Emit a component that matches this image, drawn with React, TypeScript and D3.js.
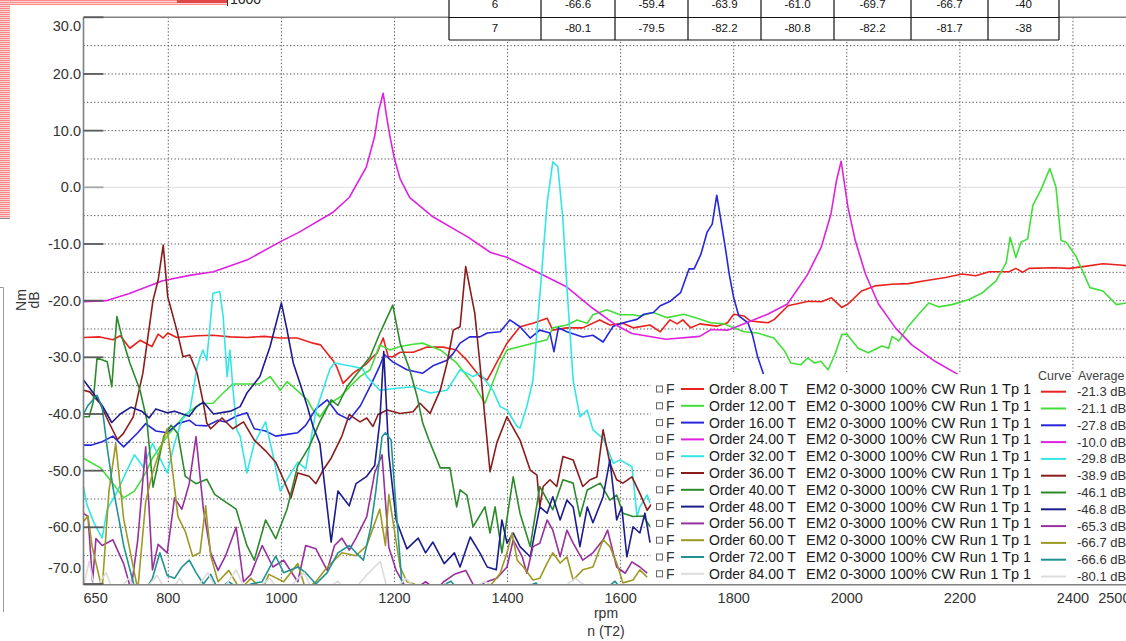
import React from 'react';
import * as d3 from 'd3';

type P = [number, number];

const orders = ['8.00', '12.00', '16.00', '24.00', '32.00', '36.00', '40.00', '48.00', '56.00', '60.00', '72.00', '84.00'];
const colors = ['#e8231e', '#42de3a', '#2626dc', '#df22df', '#33e6e6', '#8a1c1c', '#2b8a2b', '#1c1c8e', '#98309e', '#9c9a22', '#1f9393', '#dcdcdc'];
const averages = ['-21.3', '-21.1', '-27.8', '-10.0', '-29.8', '-38.9', '-46.1', '-46.8', '-65.3', '-66.7', '-66.6', '-80.1'];

const order8: P[] = [[650,-26.5],[679,-26.4],[702,-26.9],[715,-26.2],[732,-28.4],[750,-27.0],[771,-28.1],[782,-25.9],[791,-26.6],[799,-25.7],[815,-26.5],[851,-26.2],[879,-26.1],[910,-26.4],[939,-26.5],[970,-26.3],[998,-26.6],[1028,-26.6],[1056,-27.5],[1069,-27.8],[1081,-29.3],[1091,-30.5],[1098,-31.7],[1109,-34.6],[1127,-32.8],[1151,-31.1],[1162,-29.9],[1169,-29.3],[1180,-26.6],[1189,-29.9],[1197,-29.9],[1210,-29.1],[1233,-29.1],[1258,-28.2],[1286,-28.2],[1310,-28.7],[1328,-30.5],[1351,-33.4],[1364,-34.0],[1374,-32.2],[1399,-27.5],[1422,-24.6],[1445,-24.0],[1470,-23.1],[1480,-25.2],[1505,-24.8],[1533,-24.8],[1563,-23.4],[1581,-24.3],[1604,-24.0],[1622,-24.8],[1652,-24.3],[1670,-25.5],[1687,-23.4],[1700,-24.1],[1710,-23.4],[1724,-24.8],[1740,-24.1],[1770,-24.5],[1789,-23.9],[1800,-22.4],[1818,-22.7],[1830,-23.6],[1861,-23.9],[1872,-23.3],[1896,-20.9],[1932,-20.1],[1955,-20.2],[1973,-19.5],[1991,-21.2],[2002,-20.6],[2026,-18.3],[2050,-17.4],[2080,-17.1],[2109,-17.0],[2138,-16.5],[2175,-15.9],[2204,-15.3],[2228,-15.6],[2252,-14.9],[2287,-14.9],[2299,-14.3],[2311,-15.0],[2322,-14.3],[2365,-14.2],[2394,-14.3],[2418,-14.0],[2453,-13.5],[2483,-13.7],[2500,-13.9]];

const order12: P[] = [[650,-47.8],[680,-49.5],[700,-52],[721,-54.8],[740,-53.6],[760,-50.4],[772,-47.8],[798,-43.9],[830,-40.1],[856,-38.2],[879,-38.1],[897,-36.3],[914,-34.7],[939,-34.7],[962,-34.7],[980,-33.4],[998,-35.8],[1010,-34.3],[1021,-35.2],[1046,-37.5],[1056,-39.3],[1068,-40.5],[1086,-38.1],[1104,-37.0],[1121,-35.2],[1139,-33.4],[1157,-32.2],[1174,-27.8],[1192,-28.7],[1210,-28.1],[1233,-27.7],[1250,-27.5],[1281,-28.7],[1310,-31.0],[1339,-34.6],[1360,-38.1],[1387,-31.0],[1399,-28.7],[1445,-27.5],[1470,-26.9],[1480,-24.8],[1505,-24.3],[1523,-23.4],[1541,-24.0],[1551,-22.5],[1576,-21.6],[1599,-22.5],[1622,-22.5],[1634,-22.7],[1658,-22.1],[1682,-23.0],[1712,-22.4],[1741,-23.3],[1759,-23.9],[1783,-24.1],[1800,-24.8],[1818,-25.5],[1842,-25.7],[1871,-26.6],[1890,-28.9],[1901,-31.0],[1919,-31.3],[1931,-30.1],[1943,-31.0],[1954,-30.7],[1967,-32.2],[1979,-29.5],[1991,-26.0],[2000,-25.9],[2020,-28.4],[2038,-29.2],[2062,-28.0],[2074,-28.4],[2080,-26.3],[2092,-27.1],[2109,-24.5],[2127,-22.4],[2145,-20.4],[2163,-21.1],[2186,-20.7],[2216,-19.8],[2240,-18.6],[2264,-16.5],[2282,-13.3],[2289,-8.8],[2299,-12.4],[2308,-9.7],[2320,-9.1],[2329,-3.2],[2343,-0.5],[2359,3.3],[2370,0.0],[2379,-9.4],[2388,-9.7],[2405,-12.1],[2430,-17.7],[2453,-18.3],[2477,-20.7],[2494,-20.4],[2500,-20.5]];

const order16: P[] = [[650,-45.5],[663,-45.5],[683,-44.9],[702,-43.9],[721,-45.8],[746,-43.3],[760,-41.7],[778,-43.0],[798,-43.3],[817,-41.7],[837,-41.1],[849,-42.0],[868,-42.1],[888,-41.1],[901,-41.4],[920,-40.4],[939,-39.8],[952,-42.6],[972,-43.0],[990,-43.9],[1010,-43.6],[1029,-43.3],[1043,-42.0],[1061,-39.1],[1081,-37.5],[1100,-40.0],[1120,-41.0],[1140,-38.5],[1160,-34.5],[1174,-31.5],[1182,-29.5],[1197,-30.8],[1222,-32.2],[1250,-32.8],[1268,-31.5],[1293,-30.5],[1304,-29.3],[1316,-27.5],[1333,-26.4],[1351,-26.4],[1364,-25.7],[1387,-25.5],[1404,-23.4],[1422,-24.6],[1440,-26.6],[1457,-25.2],[1475,-25.7],[1482,-29.0],[1490,-24.8],[1505,-25.5],[1533,-26.4],[1551,-26.1],[1569,-27.3],[1587,-24.5],[1605,-23.9],[1617,-23.6],[1629,-23.3],[1641,-22.4],[1658,-22.1],[1670,-20.9],[1688,-20.1],[1706,-18.6],[1721,-14.4],[1730,-14.4],[1742,-11.8],[1753,-7.9],[1762,-6.5],[1770,-1.4],[1777,-5.6],[1786,-11.2],[1792,-15.3],[1800,-19.5],[1809,-22.7],[1825,-23.9],[1833,-26.0],[1842,-29.8],[1854,-33.4],[1862,-36]];

const order24: P[] = [[650,-20.2],[690,-20.0],[730,-18.8],[790,-16.5],[840,-15.5],[880,-14.9],[940,-12.8],[1000,-9.5],[1030,-8],[1090,-4.5],[1120,-1.8],[1150,3.5],[1165,9],[1172,13.5],[1180,16.6],[1186,12.5],[1192,9],[1200,5],[1210,1.5],[1227,-1.8],[1268,-5.2],[1330,-8.8],[1370,-11.5],[1400,-12.4],[1445,-14.6],[1505,-17.6],[1550,-21.3],[1590,-24.2],[1620,-25.8],[1680,-26.8],[1740,-26.3],[1760,-25.1],[1790,-25.2],[1815,-24.2],[1860,-22.4],[1895,-20.6],[1930,-15.5],[1955,-10.5],[1972,-4.7],[1982,1.3],[1990,4.6],[2002,-3.5],[2015,-9.4],[2033,-15.3],[2056,-20.6],[2086,-24.8],[2115,-27.8],[2156,-30.7],[2198,-33.1]];

const order32: P[] = [[650,-52.9],[656,-56],[669,-59.3],[683,-61.9],[692,-56.8],[707,-54.2],[740,-47.2],[756,-49.4],[772,-45.2],[785,-47.8],[798,-50.4],[811,-45.2],[824,-41.0],[838,-39.5],[851,-31.7],[861,-28.7],[868,-30.5],[879,-18.7],[891,-18.4],[897,-22.8],[904,-33.4],[909,-28.7],[914,-35.2],[921,-42.8],[927,-43.9],[939,-50.4],[952,-45.2],[972,-41.4],[985,-47.2],[998,-53.6],[1017,-50.4],[1029,-48.5],[1043,-49.7],[1061,-39.5],[1086,-32.0],[1094,-31.0],[1120,-31.5],[1144,-32.0],[1151,-33.4],[1174,-35.8],[1200,-35.5],[1233,-35.2],[1263,-36.3],[1293,-35.8],[1316,-32.2],[1339,-33.4],[1351,-32.8],[1364,-34.5],[1374,-35.8],[1387,-38.7],[1399,-39.3],[1417,-42.2],[1422,-42.5],[1434,-38.7],[1445,-34.0],[1458,-18.0],[1470,-2.8],[1480,4.5],[1489,3.6],[1498,-5.8],[1505,-17.6],[1516,-34.0],[1528,-40.5],[1541,-39.3],[1551,-42.8],[1569,-44.3],[1587,-48.7],[1599,-48.1],[1620,-49.3],[1629,-58.1],[1634,-56.4],[1647,-54.3],[1652,-55.7]];

const order36: P[] = [[650,-35.8],[661,-36.1],[679,-38.1],[697,-41.9],[710,-44.5],[720,-43.5],[738,-40.5],[755,-32.8],[773,-19.9],[782,-16.4],[791,-10.2],[799,-19.3],[815,-25.2],[826,-29.9],[838,-29.6],[851,-32.8],[862,-38.1],[868,-41.6],[875,-42.6],[895,-40.7],[914,-42.6],[933,-41.4],[952,-44.6],[972,-46.5],[990,-48.5],[1004,-51.6],[1017,-54.8],[1029,-50.4],[1049,-51.0],[1061,-52.3],[1075,-49.7],[1088,-47.8],[1107,-43.9],[1120,-40.1],[1139,-41.4],[1151,-40.7],[1162,-42.2],[1171,-40.1],[1187,-39.3],[1210,-39.9],[1233,-39.6],[1245,-38.1],[1263,-39.9],[1281,-35.8],[1293,-31.0],[1304,-25.2],[1316,-24.6],[1326,-14.0],[1342,-22.2],[1351,-31.0],[1357,-37.5],[1369,-50.2],[1381,-45.1],[1399,-40.5],[1422,-44.6],[1440,-49.9],[1452,-50.8],[1457,-56.4],[1463,-52.8],[1475,-51.6],[1487,-52.8],[1498,-47.5],[1516,-48.1],[1533,-52.8],[1546,-51.6],[1558,-51.1],[1569,-42.8],[1581,-48.7],[1593,-51.6],[1604,-52.2],[1620,-51.1],[1634,-54.0],[1647,-57.0],[1656,-55.7]];

const order40: P[] = [[650,-40.5],[660,-40.5],[667,-38],[674,-30.1],[692,-30.8],[700,-35.2],[709,-22.8],[718,-26.4],[732,-31.0],[750,-35.8],[762,-41.1],[773,-52.9],[792,-43.9],[805,-42.0],[817,-43.5],[830,-51.0],[849,-52.3],[868,-51.5],[882,-54.2],[901,-55.5],[920,-56.8],[939,-63.2],[952,-65.8],[972,-58.7],[990,-62.0],[1010,-56.8],[1029,-49.1],[1049,-45.8],[1068,-41.4],[1088,-37.5],[1100,-38.5],[1116,-35.2],[1139,-32.2],[1157,-29.9],[1174,-25.8],[1197,-20.8],[1210,-27.5],[1227,-32.2],[1240,-36.9],[1250,-41.6],[1261,-44.6],[1281,-49.5],[1298,-49.5],[1310,-56.4],[1316,-53.4],[1328,-54.3],[1339,-59.9],[1360,-56.4],[1369,-61.0],[1378,-56.4],[1390,-64.5],[1410,-51.1],[1422,-57.5],[1440,-63.4],[1457,-52.8],[1480,-56.9],[1498,-51.6],[1516,-52.2],[1528,-58.1],[1541,-53.4],[1564,-52.2],[1581,-55.2],[1593,-54.3],[1604,-57.5],[1622,-58.1],[1640,-58.0],[1652,-59.9]];

const order48: P[] = [[650,-34],[665,-36],[683,-38.5],[700,-41.5],[715,-40],[734,-38.8],[753,-39.5],[766,-40.7],[778,-39.1],[798,-39.8],[811,-39.5],[837,-40.4],[849,-38.8],[862,-37.9],[880,-40],[910,-39.5],[927,-38.7],[939,-36.3],[962,-33.4],[980,-28.1],[1000,-20.4],[1010,-25.2],[1021,-31],[1033,-34.6],[1046,-38.7],[1056,-42.2],[1068,-45.2],[1088,-62.6],[1100,-53.6],[1120,-56.2],[1132,-52.3],[1151,-51.0],[1165,-49.1],[1174,-41.4],[1181,-29.0],[1190,-47.2],[1203,-58.7],[1222,-63.8],[1242,-61.9],[1255,-64.5],[1268,-62.6],[1288,-66.4],[1306,-64.5],[1316,-67.0],[1334,-61.7],[1351,-64.5],[1364,-67.0],[1380,-67.5],[1390,-58.7],[1399,-62.8],[1410,-61.0],[1422,-63.4],[1440,-65.2],[1457,-56.4],[1470,-57.5],[1480,-54.6],[1493,-58.7],[1505,-55.2],[1516,-56.4],[1528,-63.4],[1541,-56.4],[1551,-59.2],[1569,-54.6],[1581,-48.1],[1593,-58.7],[1602,-56.4],[1611,-65.2],[1622,-59.9],[1634,-61.0],[1643,-57.5],[1652,-62.7]];

const order56: P[] = [[650,-57.5],[658,-58.1],[666,-69.6],[672,-62],[683,-63.2],[702,-62.2],[721,-66.4],[734,-71],[746,-62.2],[760,-45.8],[772,-67.5],[782,-63],[798,-64.5],[811,-54.8],[824,-56.8],[837,-52.3],[849,-44.0],[862,-56.8],[875,-64.5],[888,-67.6],[901,-65.1],[920,-60.0],[933,-69.6],[946,-68.3],[966,-63.2],[985,-67.0],[1004,-65.8],[1029,-69.6],[1043,-63.2],[1061,-63.8],[1081,-67.6],[1094,-63.2],[1107,-61.9],[1120,-64.0],[1132,-61.9],[1151,-58.1],[1165,-50.4],[1178,-47.2],[1190,-63.5],[1203,-67.6],[1222,-71],[1235,-71],[1255,-69.6],[1274,-71],[1287,-69.6],[1306,-68.3],[1326,-67.6],[1344,-71],[1358,-69.8],[1381,-69.0],[1399,-67.0],[1410,-62.2],[1426,-65.2],[1434,-68.1],[1445,-63.4],[1457,-62.8],[1470,-58.7],[1480,-60.5],[1493,-65.2],[1505,-60.5],[1516,-62.8],[1533,-65.8],[1551,-64.5],[1569,-62.2],[1577,-60.5],[1593,-67.0],[1608,-68.1],[1620,-66.1],[1634,-67.0],[1647,-68.1]];

const order60: P[] = [[650,-59],[658,-58],[665,-63.2],[669,-65],[683,-71],[695,-53.6],[707,-45.2],[721,-58.5],[734,-65],[746,-71],[760,-55.5],[772,-50.4],[785,-46.5],[798,-42.6],[808,-50.4],[817,-58.1],[830,-60.7],[843,-65.1],[856,-64.5],[866,-56.2],[875,-65.0],[888,-69.6],[907,-67.6],[927,-71],[946,-69.0],[966,-71],[978,-68.3],[1004,-69.6],[1029,-66.4],[1043,-71],[1061,-69.6],[1081,-67.0],[1107,-64.5],[1132,-65.0],[1151,-63.2],[1165,-59.3],[1174,-56.8],[1184,-63.2],[1190,-54.2],[1197,-58.7],[1210,-67.0],[1222,-69.6],[1249,-70.5],[1274,-71],[1326,-71],[1364,-71],[1387,-68.1],[1399,-64.5],[1408,-61.0],[1417,-65.8],[1428,-67.0],[1445,-69.3],[1457,-69],[1470,-66.3],[1480,-64.5],[1493,-66.3],[1505,-65.2],[1516,-69.3],[1533,-67.5],[1551,-67],[1569,-62.2],[1581,-63.4],[1593,-66.3],[1604,-69.8],[1622,-69.3],[1634,-67.5],[1647,-68.8]];

const order72: P[] = [[650,-40],[658,-38.5],[674,-36.7],[683,-38.8],[692,-46],[702,-52.9],[714,-59.3],[721,-63.2],[740,-70.5],[760,-71],[772,-69.0],[785,-64.5],[798,-68.5],[811,-69],[824,-67.0],[837,-65.8],[849,-68],[862,-70],[875,-68.3],[888,-71],[907,-69.6],[927,-71],[946,-70],[966,-69.6],[990,-65.1],[1004,-68],[1029,-67.0],[1043,-68],[1061,-70],[1081,-68],[1100,-64.5],[1120,-63.2],[1132,-64.5],[1145,-65.8],[1158,-60.0],[1167,-53.6],[1178,-44.0],[1184,-43.3],[1194,-44.6],[1203,-56.8],[1214,-71],[1250,-72],[1300,-69.5],[1320,-72],[1400,-72],[1450,-69.8],[1470,-72],[1560,-72],[1590,-69.5],[1610,-72],[1656,-72]];

const order84: P[] = [[650,-70.5],[660,-66],[670,-71],[690,-68],[705,-72],[730,-69],[750,-72],[780,-68.5],[800,-72],[820,-69],[840,-72],[870,-68],[890,-72],[920,-67.5],[940,-72],[980,-69],[1000,-72],[1040,-68],[1060,-72],[1100,-69.5],[1120,-72],[1150,-68.5],[1175,-66],[1190,-72],[1220,-69],[1250,-72],[1290,-70],[1320,-72],[1360,-69.5],[1400,-72],[1440,-70],[1480,-72],[1520,-69],[1560,-72],[1600,-70],[1640,-72],[1656,-71]];

const seriesData: P[][] = [order8, order12, order16, order24, order32, order36, order40, order48, order56, order60, order72, order84];

const yTicks = [30, 20, 10, 0, -10, -20, -30, -40, -50, -60, -70];
const yDotted = [25, 20, 15, 10, 5, -5, -10, -15, -20, -25, -30, -35, -40, -45, -50, -55, -60, -65];
const xTicks = [650, 800, 1000, 1200, 1400, 1600, 1800, 2000, 2200, 2400, 2500];
const xDotted = [800, 1000, 1200, 1400, 1600, 1800, 2000, 2200, 2400];

const tableRow6 = ['6', '-66.6', '-59.4', '-63.9', '-61.0', '-69.7', '-66.7', '-40'];
const tableRow7 = ['7', '-80.1', '-79.5', '-82.2', '-80.8', '-82.2', '-81.7', '-38'];

const W = 1126;
const H = 641;
const L = 83.5, R = 1129.5, T = 17.3, B = 584;
const FONT = 'Arial, "Liberation Sans", sans-serif';

export default function App() {
  const x = d3.scaleLinear().domain([650, 2500]).range([L, R]);
  const y = d3.scaleLinear().domain([-70, 30]).range([B, T]);
  const line = d3.line<P>().x(d => x(d[0])).y(d => y(d[1])).curve(d3.curveLinear);

  const colEdges = [449, 541, 615, 688, 761, 834, 911, 988, 1059];
  const legTop = 389;
  const legStep = 16.8;

  return (
    <div style={{ position: 'fixed', left: 0, top: 0, width: W, height: H, background: '#fff' }}>
      <svg width={W} height={H} style={{ display: 'block', fontFamily: FONT }}>
        <defs>
          <pattern id="stripes" width="4" height="2" patternUnits="userSpaceOnUse">
            <rect width="4" height="1" fill="#ff8a8a" />
            <rect y="1" width="4" height="1" fill="#ffd2d2" />
          </pattern>
          <clipPath id="plotClip">
            <rect x={L} y={T} width={R - L} height={B - T} />
          </clipPath>
        </defs>
        <rect width={W} height={H} fill="#fff" />
        {/* background window fragments */}
        <rect x={0} y={0} width={10} height={218} fill="url(#stripes)" />
        <rect x={0} y={0} width={227} height={5} fill="url(#stripes)" />
        <rect x={177} y={0} width={50} height={3} fill="#e04848" />
        <line x1={227.5} y1={0} x2={227.5} y2={6} stroke="#333" strokeWidth={1} />
        <text x={230} y={4} fontSize={14} fill="#222">1600</text>
        <line x1={0} y1={218.5} x2={10} y2={218.5} stroke="#888" strokeWidth={1} />
        <path d="M0,287.5 H3.5 V612" fill="none" stroke="#999" strokeWidth={1} />

        {/* grid */}
        {yDotted.map(v => (
          <line key={'gy' + v} x1={L} x2={R} y1={y(v)} y2={y(v)} stroke="#555" strokeWidth={1} strokeDasharray="1.3,2.2" />
        ))}
        {xDotted.map(v => (
          <line key={'gx' + v} x1={x(v)} x2={x(v)} y1={T} y2={B} stroke="#555" strokeWidth={1} strokeDasharray="1.3,2.2" />
        ))}
        <line x1={L} x2={R} y1={y(0)} y2={y(0)} stroke="#e4e4e4" strokeWidth={1.2} />

        {/* curves */}
        <g clipPath="url(#plotClip)">
          {seriesData.map((s, i) => (
            <path key={'s' + i} d={line(s) || ''} fill="none" stroke={colors[i]} strokeWidth={1.6} strokeLinejoin="round" />
          ))}
        </g>

        {/* frame */}
        <line x1={L} x2={L} y1={T} y2={B + 1} stroke="#808080" strokeWidth={1.6} />
        <line x1={L} x2={R} y1={B + 0.8} y2={B + 0.8} stroke="#808080" strokeWidth={1.6} />
        <line x1={L} x2={R} y1={T} y2={T} stroke="#808080" strokeWidth={1.6} />

        {/* y ticks and labels */}
        {yTicks.map(v => (
          <line key={'ty' + v} x1={L} x2={L + 20} y1={y(v)} y2={y(v)} stroke={v === 0 ? '#a8a8a8' : '#5a5a5a'} strokeWidth={1.8} />
        ))}
        {yTicks.map(v => {
          let yy = y(v) + 5;
          if (v === 30) yy = 31;
          if (v === -70) yy = 573;
          return (
            <text key={'ly' + v} x={81} y={yy} fontSize={14.5} textAnchor="end" fill="#333">{v.toFixed(1)}</text>
          );
        })}
        {xTicks.map(v => {
          const anchor = v === 650 ? 'start' : v === 2500 ? 'end' : 'middle';
          const xx = v === 650 ? L : v === 2500 ? R + 1 : x(v);
          return (
            <text key={'lx' + v} x={xx} y={603} fontSize={14.5} textAnchor={anchor} fill="#333">{v}</text>
          );
        })}
        <text x={606} y={618} fontSize={14} textAnchor="middle" fill="#333">rpm</text>
        <text x={606} y={636} fontSize={14} textAnchor="middle" fill="#333">n (T2)</text>
        <text transform="translate(26,300) rotate(-90)" fontSize={14} textAnchor="middle" fill="#333">Nm</text>
        <text transform="translate(39,300) rotate(-90)" fontSize={14} textAnchor="middle" fill="#333">dB</text>

        {/* legend */}
        <rect x={651} y={374} width={W - 651} height={B - 374} fill="#fff" />
        <text x={1038} y={380} fontSize={12.5} fill="#444">Curve</text>
        <text x={1078} y={380} fontSize={12.5} fill="#444">Average</text>
        {orders.map((o, i) => {
          const cy = legTop + i * legStep;
          return (
            <g key={'lg' + i}>
              <rect x={656.5} y={cy - 3} width={6} height={6} fill="#fff" stroke="#666" strokeWidth={1} />
              <text x={666} y={cy + 5} fontSize={14} fill="#333">F</text>
              <line x1={681} x2={704} y1={cy} y2={cy} stroke={colors[i]} strokeWidth={2} />
              <text x={709} y={cy + 5} fontSize={14} fill="#1a1a1a">{`Order ${o} T`}</text>
              <text x={806} y={cy + 5} fontSize={14.6} fill="#1a1a1a">EM2 0-3000 100% CW Run 1 Tp 1</text>
              <line x1={1041} x2={1066} y1={cy + 2.7} y2={cy + 2.7} stroke={colors[i]} strokeWidth={2} />
              <text x={1077} y={cy + 7.2} fontSize={13} fill="#333">{`${averages[i]} dB`}</text>
            </g>
          );
        })}

        {/* table */}
        <rect x={colEdges[0]} y={0} width={colEdges[8] - colEdges[0]} height={40} fill="#fff" />
        {[tableRow6, tableRow7].map((row, r) => (
          <g key={'tr' + r}>
            {row.map((c, j) => (
              <text key={'tc' + j} x={(colEdges[j] + colEdges[j + 1]) / 2} y={r === 0 ? 8 : 32} fontSize={11.5} textAnchor="middle" fill="#111">{c}</text>
            ))}
          </g>
        ))}
        {colEdges.map((cx, j) => (
          <line key={'tv' + j} x1={cx} x2={cx} y1={0} y2={40} stroke="#111" strokeWidth={1.2} />
        ))}
        <line x1={colEdges[0]} x2={colEdges[8]} y1={17.5} y2={17.5} stroke="#111" strokeWidth={1.2} />
        <line x1={colEdges[0]} x2={colEdges[8]} y1={40} y2={40} stroke="#111" strokeWidth={1.2} />
      </svg>
    </div>
  );
}
